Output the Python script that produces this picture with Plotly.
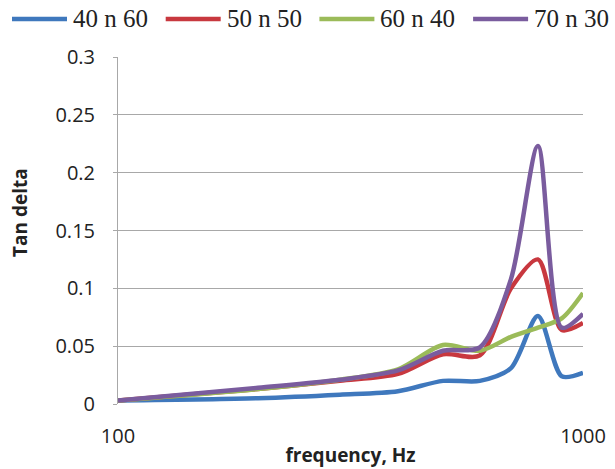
import plotly.graph_objects as go

freq = [100, 200, 300, 400, 500, 600, 700, 800, 900, 1000]
s40 = [0.003, 0.005, 0.008, 0.011, 0.020, 0.020, 0.031, 0.076, 0.024, 0.027]
s50 = [0.003, 0.013, 0.020, 0.026, 0.043, 0.042, 0.100, 0.125, 0.064, 0.070]
s60 = [0.003, 0.013, 0.021, 0.030, 0.051, 0.046, 0.058, 0.066, 0.074, 0.096]
s70 = [0.003, 0.014, 0.021, 0.029, 0.046, 0.049, 0.108, 0.223, 0.066, 0.078]
names = ["40 n 60", "50 n 50", "60 n 40", "70 n 30"]
colors = ["#3F78BD", "#C8383F", "#9BBB59", "#7A5C9E"]

W, H = 615, 469
L, R, T, B = 118, 32, 57, 65
pw, ph = W - L - R, H - T - B

def px(x):
    return (x - L) / pw

def py(y):
    return (H - B - y) / ph

fig = go.Figure()
for name, ys, c in zip(names, [s40, s50, s60, s70], colors):
    fig.add_trace(go.Scatter(x=freq, y=ys, name=name, mode="lines", showlegend=False,
                             line=dict(color=c, width=4.5, shape="spline", smoothing=0.8)))

# custom legend (long sample lines as in the reference)
shapes = []
annotations = []
for i, (name, c) in enumerate(zip(names, colors)):
    x0 = 12 + 153.7 * i
    shapes.append(dict(type="line", xref="paper", yref="paper",
                       x0=px(x0), x1=px(x0 + 55), y0=py(19), y1=py(19),
                       line=dict(color=c, width=4.5)))
    annotations.append(dict(text=name, xref="paper", yref="paper", x=px(x0 + 59), y=py(18),
                            xanchor="left", yanchor="middle", showarrow=False,
                            font=dict(family="Liberation Serif", size=25, color="#222")))

annotations.append(dict(text="<b>Tan delta</b>", xref="paper", yref="paper", x=px(20), y=py(213),
                        xanchor="center", yanchor="middle", textangle=-90, showarrow=False,
                        font=dict(family="Open Sans", size=19, color="#222")))

fig.update_layout(
    width=W, height=H,
    margin=dict(l=L, r=R, t=T, b=B, autoexpand=False),
    paper_bgcolor="white", plot_bgcolor="white",
    showlegend=False,
    shapes=shapes, annotations=annotations,
    xaxis=dict(type="log", range=[2, 3], tickvals=[100, 1000], ticktext=["100", "1000"],
               showgrid=False, showline=False, zeroline=False,
               ticklabelstandoff=18,
               tickfont=dict(family="Open Sans", size=20, color="#222"),
               title=dict(text="<b>frequency, Hz</b>", font=dict(family="Open Sans", size=19, color="#222"),
                          standoff=0)),
    yaxis=dict(range=[0, 0.3], tickvals=[0, 0.05, 0.1, 0.15, 0.2, 0.25, 0.3],
               ticktext=["0", "0.05", "0.1", "0.15", "0.2", "0.25", "0.3"],
               showgrid=True, gridcolor="#A8A8A8", gridwidth=1,
               showline=True, linecolor="#A8A8A8", linewidth=1, zeroline=False,
               ticks="outside", ticklen=4, tickcolor="#A8A8A8",
               ticklabelstandoff=14,
               tickfont=dict(family="Open Sans", size=20, color="#222")),
)
fig.write_html("out.html")
